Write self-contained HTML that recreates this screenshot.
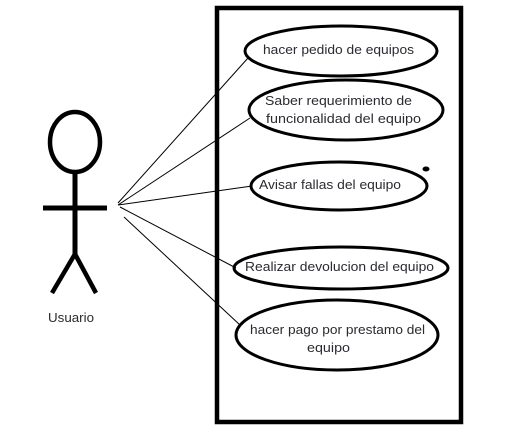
<!DOCTYPE html>
<html><head><meta charset="utf-8"><style>
html,body{margin:0;padding:0;background:#fff;width:526px;height:445px;overflow:hidden}
text{font-family:"Liberation Sans",sans-serif;font-size:13px;fill:#2a2a30}
</style></head><body>
<svg width="526" height="445" viewBox="0 0 526 445" xmlns="http://www.w3.org/2000/svg">
<rect x="217" y="8" width="244" height="414" fill="none" stroke="#000" stroke-width="4.5"/>
<g stroke="#000" stroke-width="1" fill="none">
<line x1="118" y1="203" x2="248" y2="58"/>
<line x1="118" y1="205" x2="250" y2="118"/>
<line x1="118" y1="205" x2="252" y2="186"/>
<line x1="120" y1="207" x2="236" y2="268"/>
<line x1="124" y1="217" x2="240" y2="325"/>
</g>
<g stroke="#000" stroke-width="3" fill="none">
<ellipse cx="341" cy="51" rx="96" ry="25"/>
<ellipse cx="346" cy="110" rx="97" ry="30"/>
<ellipse cx="339" cy="186" rx="88" ry="24"/>
<ellipse cx="341" cy="268" rx="107" ry="21"/>
<ellipse cx="337" cy="335" rx="101" ry="35"/>
</g>
<ellipse cx="426" cy="169" rx="3.5" ry="2.5" fill="#000"/>
<g stroke="#000" fill="none">
<ellipse cx="75" cy="142" rx="25" ry="30" stroke-width="4.5"/>
<line x1="75" y1="172" x2="75" y2="256" stroke-width="5"/>
<line x1="43" y1="208" x2="107" y2="208" stroke-width="5"/>
<line x1="75" y1="254" x2="52" y2="293" stroke-width="4.5"/>
<line x1="75" y1="254" x2="96" y2="293" stroke-width="4.5"/>
</g>
<text x="263" y="54" textLength="151" lengthAdjust="spacingAndGlyphs">hacer pedido de equipos</text>
<text x="265" y="105" textLength="147" lengthAdjust="spacingAndGlyphs">Saber requerimiento de</text>
<text x="266" y="123" textLength="155" lengthAdjust="spacingAndGlyphs">funcionalidad del  equipo</text>
<text x="259" y="189" textLength="142" lengthAdjust="spacingAndGlyphs">Avisar fallas del equipo</text>
<text x="245" y="271" textLength="189" lengthAdjust="spacingAndGlyphs">Realizar devolucion del equipo</text>
<text x="250" y="334" textLength="175" lengthAdjust="spacingAndGlyphs">hacer pago por prestamo del</text>
<text x="307" y="352" textLength="43" lengthAdjust="spacingAndGlyphs">equipo</text>
<text x="48" y="322" textLength="46" lengthAdjust="spacingAndGlyphs">Usuario</text>
</svg>
</body></html>
